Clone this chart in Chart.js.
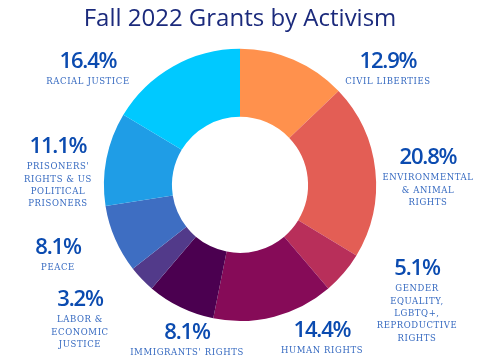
<!DOCTYPE html>
<html>
<head>
<meta charset="utf-8">
<script src="https://cdn.jsdelivr.net/npm/chart.js@4/dist/chart.umd.min.js"></script>
<style>
  html, body { margin: 0; padding: 0; background: #fff; }
  #wrap { width: 480px; height: 360px; }
</style>
</head>
<body>
<div id="wrap"><canvas id="grants"></canvas></div>
<script>
// clockwise from 12 o'clock
const categories = [
  ['CIVIL LIBERTIES'],
  ['ENVIRONMENTAL', '& ANIMAL', 'RIGHTS'],
  ['GENDER', 'EQUALITY,', 'LGBTQ+,', 'REPRODUCTIVE', 'RIGHTS'],
  ['HUMAN RIGHTS'],
  ["IMMIGRANTS' RIGHTS"],
  ['LABOR &', 'ECONOMIC', 'JUSTICE'],
  ['PEACE'],
  ["PRISONERS'", 'RIGHTS & US', 'POLITICAL', 'PRISONERS'],
  ['RACIAL JUSTICE']
];
const shares = [12.9, 20.8, 5.1, 14.4, 8.1, 3.2, 8.1, 11.1, 16.4];
const colors = ['#ff914d', '#e35e55', '#b82f5a', '#860b58', '#4b0050', '#523a8a', '#3e6ec2', '#1f9de6', '#00c9ff'];

// where each label block sits (percent line centre), canvas px
const labelPos = [
  [388, 62], [428, 158], [417, 269], [322, 331], [187, 333],
  [80, 300], [58, 248], [58, 147], [88, 62]
];

const outsideLabels = {
  id: 'outsideLabels',
  afterDraw(chart) {
    const ctx = chart.ctx;
    ctx.save();
    ctx.textAlign = 'center';
    ctx.textBaseline = 'middle';
    shares.forEach((v, i) => {
      const [x, y] = labelPos[i];
      ctx.fillStyle = '#0b4bb0';
      ctx.font = '600 22px "Open Sans"';
      ctx.letterSpacing = '-1.2px';
      ctx.fillText(v.toFixed(1) + '%', x, y);
      ctx.fillStyle = '#3569c0';
      ctx.font = '8.5px "DejaVu Serif"';
      ctx.letterSpacing = '0.6px';
      categories[i].forEach((line, j) => {
        ctx.fillText(line, x, y + 20 + j * 12.4);
      });
    });
    ctx.restore();
  }
};

new Chart(document.getElementById('grants'), {
  type: 'doughnut',
  data: {
    labels: categories.map(c => c.join(' ')),
    datasets: [{
      data: shares,
      backgroundColor: colors,
      borderWidth: 0
    }]
  },
  options: {
    responsive: true,
    maintainAspectRatio: false,
    animation: false,
    cutout: '50%',
    layout: { padding: { top: 0, bottom: 39 } },
    plugins: {
      legend: { display: false },
      tooltip: { enabled: false },
      title: {
        display: true,
        text: 'Fall 2022 Grants by Activism',
        color: '#1b2a7c',
        font: { family: 'Open Sans', size: 24, weight: '500' },
        padding: { top: 5, bottom: 15 }
      }
    }
  },
  plugins: [outsideLabels]
});
</script>
</body>
</html>
